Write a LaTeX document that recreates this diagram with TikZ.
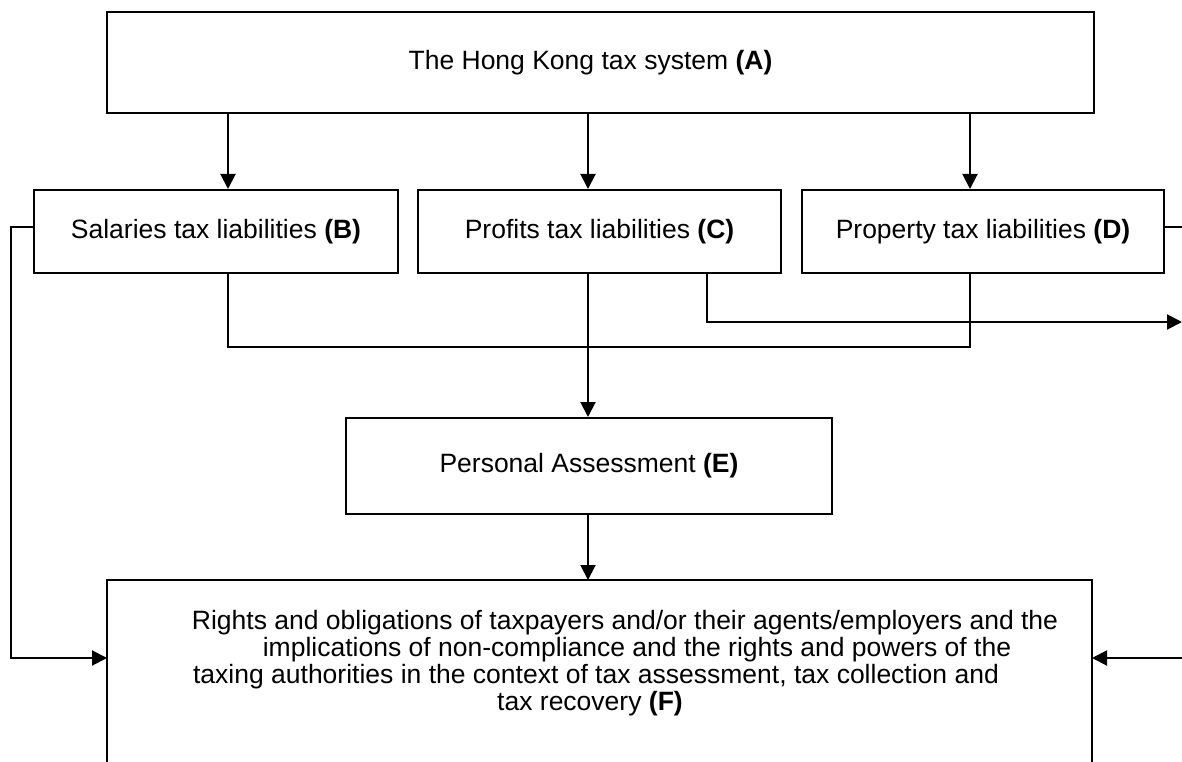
\documentclass[tikz,border=0pt]{standalone}
\usepackage{fontspec}
\setmainfont{Liberation Sans}
\usetikzlibrary{arrows.meta}

\begin{document}
\begin{tikzpicture}[x=1pt, y=-1pt, line width=2pt,
    box/.style={draw, inner sep=0pt, align=center, font=\fontsize{26.5}{27}\selectfont},
    arr/.style={-{Triangle[length=15pt,width=15pt]}}]
    \useasboundingbox (0,0) rectangle (1182,762);
    \clip (0,0) rectangle (1182,762);

    \node[box, minimum width=987, minimum height=101] (A) at (600.5,62.5) {\hspace*{-20pt}The Hong Kong tax system \textbf{(A)}};
    \node[box, minimum width=364, minimum height=83] (B) at (216,231.5) {Salaries tax liabilities \textbf{(B)}};
    \node[box, minimum width=363, minimum height=83] (C) at (599.5,231.5) {Profits tax liabilities \textbf{(C)}};
    \node[box, minimum width=362, minimum height=83] (D) at (983,231.5) {Property tax liabilities \textbf{(D)}};
    \node[box, minimum width=486, minimum height=96] (E) at (589,466) {Personal Assessment \textbf{(E)}};
    \node[box, draw=none] (F) at (600,663) {\hspace*{50pt}Rights and obligations of taxpayers and/or their agents/employers and the\\
        \hspace*{74pt}implications of non-compliance and the rights and powers of the\\
        \hspace*{-8pt}taxing authorities in the context of tax assessment, tax collection and\\
        \hspace*{-20pt}tax recovery \textbf{(F)}};

    % open box round F, cut at the page bottom
    \coordinate (Fnw) at (107,580);
    \coordinate (Fne) at (1092,580);
    \draw (Fnw |- 0,780) -- (Fnw) -- (Fne) -- (Fne |- 0,780);

    \coordinate (colB) at (228,0);
    \coordinate (colC) at (588,0);
    \coordinate (colD) at (970,0);
    \coordinate (colX) at (707,0);
    \coordinate (edgeL) at (11,0);
    \coordinate (edgeR) at (1182,0);

    \draw[arr] (A.south -| colB) -- (B.north -| colB);
    \draw[arr] (A.south -| colC) -- (C.north -| colC);
    \draw[arr] (A.south -| colD) -- (D.north -| colD);

    \draw (B.south -| colB) -- (colB |- 0,347) -- (colD |- 0,347) -- (D.south -| colD);
    \draw[arr] (C.south -| colC) -- (E.north -| colC);
    \draw[arr] (C.south -| colX) -- (colX |- 0,322) -- (edgeR |- 0,322);
    \draw[arr] (E.south -| colC) -- (Fnw -| colC);

    \draw[arr] (B.west |- 0,227) -- (edgeL |- 0,227) -- (edgeL |- 0,658) -- (Fnw |- 0,658);
    \draw (D.east |- 0,227) -- (edgeR |- 0,227);
    \draw[arr] (edgeR |- 0,658) -- (Fne |- 0,658);
\end{tikzpicture}
\end{document}
